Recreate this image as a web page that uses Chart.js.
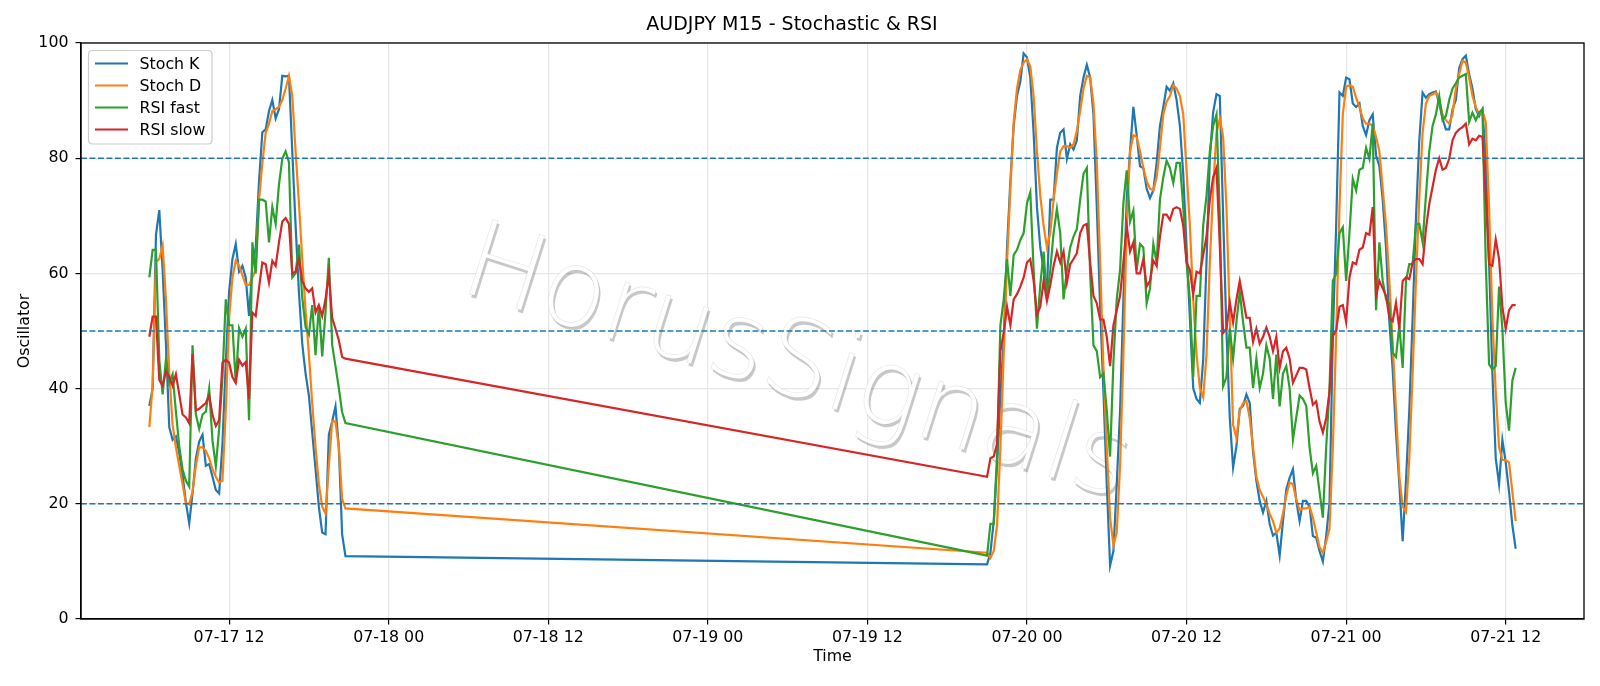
<!DOCTYPE html>
<html>
<head>
<meta charset="utf-8">
<title>AUDJPY M15 - Stochastic &amp; RSI</title>
<script src="https://cdn.jsdelivr.net/npm/chart.js@4.4.0/dist/chart.umd.min.js"></script>
<style>
  html, body { margin: 0; padding: 0; background: #fff; }
  #wrap { width: 1600px; height: 686px; }
</style>
</head>
<body>
<div id="wrap"><canvas id="oscChart" width="1600" height="686"></canvas></div>
<script>

// time is counted in hours from 07-17 00:00, one bar every 15 minutes
var firstBlockStart = 6;    // 07-17 06:00
var secondBlockStart = 69;  // 07-19 21:00 (weekend gap before it)
var barStep = 0.25;

// --- 07-17 06:00 -> 07-17 20:45 ---
var stochK1 = [37, 40, 66.7, 71, 60.6, 47.8, 33.3, 31.1, 31.7, 28.8,
  25, 20.2, 16.6, 21.8, 27.9, 30.8, 32, 26.6, 26.9, 24.7,
  22.4, 21.8, 30.4, 44.6, 56.8, 62.5, 65.1, 60.3, 61.3, 59.3,
  52.6, 61.3, 64.5, 76, 84.5, 85, 88.2, 90.1, 86.9, 88.5,
  94.3, 94.2, 94.3, 81.2, 68.3, 56.8, 47.8, 42.6, 38.8, 32.4,
  26, 19.5, 15, 14.7, 32, 34.3, 36.9, 29.8, 14.7, 10.9];
var stochD1 = [33.3, 40.7, 62, 62.5, 64.8, 55.5, 42.6, 33.7, 29.8, 26.6,
  23.4, 20.2, 19.9, 22.1, 26.6, 29.8, 29.8, 29.2, 27.9, 26,
  24.7, 23.7, 24, 36.2, 52.3, 59.3, 62.2, 61.3, 59.7, 58,
  58, 59.3, 60.6, 72.8, 79.2, 84.4, 86, 88.2, 88.5, 88.9,
  90.1, 92.1, 94.3, 90.8, 81.2, 72.2, 62.5, 53.6, 45.9, 37.5,
  29.8, 23.4, 19.5, 18.3, 26.6, 34.3, 34.3, 29.8, 20.8, 19.2];
var rsiFast1 = [59.3, 64.1, 64.1, 45, 39, 45, 41, 42.5, 36, 30,
  26, 24, 23, 47.5, 35.5, 33, 35.5, 36, 40, 31,
  26.5, 33, 42, 55.5, 51, 51, 41, 50.5, 49, 50.4,
  34.5, 65.4, 60, 72.8, 72.8, 72.5, 65.4, 71.5, 68.6, 75.4,
  79.9, 81.2, 79.3, 59.3, 60, 65, 55.8, 50.7, 49.4, 54.5,
  45.8, 54.5, 45.6, 53.3, 62.7, 47.6, 43.9, 40.1, 35.9, 34];
var rsiSlow1 = [49, 52.5, 52.5, 41.5, 40.5, 43, 42, 40.5, 42.5, 39,
  35.5, 35, 34, 46, 36.2, 36.5, 37, 37.5, 38.8, 35.5,
  33.5, 34.5, 44.5, 45, 44.5, 42, 41, 45, 44, 44.6,
  38.2, 53.2, 52.6, 57.5, 61.9, 61.6, 58.4, 62.2, 61.3, 65.4,
  69, 69.6, 68.6, 60, 60.3, 62.5, 58.7, 57.4, 56.8, 57.4,
  53.2, 54.5, 52.6, 55.5, 60, 52.3, 50.4, 48.4, 45.5, 45.2];

// --- 07-19 21:00 -> 07-21 12:45 ---
var stochK2 = [9.5, 11.5, 17, 26.6, 38.8, 48.5, 64.5, 76, 85.6, 90.8,
  93.3, 98.2, 97.5, 94, 84.4, 71.5, 64.5, 60.6, 57, 72.8,
  72.8, 81.8, 84.4, 85, 79.9, 82.4, 81.5, 83.1, 90.8, 94,
  96.2, 94, 87.6, 71.5, 54.2, 39.4, 23.4, 9.3, 11.8, 23.4,
  36.2, 55.5, 72.8, 81.2, 88.9, 84, 78.6, 78.3, 74.7, 73.1,
  74.4, 79.2, 85.6, 88.9, 92.4, 91.7, 93, 90.1, 85.6, 77.3,
  64.5, 52.3, 40.1, 38.2, 37.5, 45, 62, 80, 88, 91.1,
  90.8, 70, 50, 35, 26.3, 30, 36.5, 37, 39, 37.5,
  29, 24, 20.5, 18.5, 20.5, 16.5, 14.5, 15, 11, 17,
  22.5, 24.5, 26, 20.5, 17, 20.5, 20.5, 19.5, 14.4, 14.1,
  11.8, 10, 14.4, 20.2, 49.1, 68.3, 91.4, 90.8, 94, 93.7,
  89.5, 88.9, 89.5, 85.6, 84, 86.6, 87.6, 80.5, 78.6, 72.8,
  64.5, 51.7, 43.3, 32.4, 23.4, 13.5, 24, 36.2, 52.3, 69.6,
  83, 91.4, 90.5, 91.1, 91.4, 91.6, 89.5, 86.9, 85, 85,
  88.5, 90.1, 95.6, 97.2, 97.8, 94.6, 92.1, 88.5, 87.3, 88.5,
  79.9, 61.9, 42.6, 27.9, 23.4, 31.1, 27.2, 22.1, 16.3, 12.2];
var stochD2 = [11.5, 10.6, 11.8, 16.3, 29.8, 45.9, 61.9, 74.7, 86.3, 92.1,
  95.3, 96.6, 97.2, 95.9, 90.8, 81.2, 73.5, 68.3, 64.5, 67,
  72.8, 77.3, 81.2, 82.1, 82.1, 81.8, 82.4, 84.7, 88.2, 92.1,
  94.3, 94, 89.5, 79.2, 61.9, 43.9, 29.8, 17.6, 12.8, 15,
  26.6, 45.9, 68.3, 81.2, 84, 83.7, 81.2, 78.3, 76, 74.7,
  74.4, 76.7, 81.8, 87.6, 89.8, 90.8, 92.7, 92.1, 90.8, 87.6,
  77.9, 68.3, 55.5, 45.9, 40.1, 38.5, 45.9, 61.9, 74.7, 84.4,
  86.9, 83.7, 71.5, 52.3, 33.7, 31.4, 36.2, 37.5, 37.8, 34.9,
  29.8, 24.7, 22.4, 21.2, 19.9, 18.3, 17, 15, 15.7, 18.3,
  21.5, 23.7, 23.4, 20.8, 18.9, 19.2, 19.2, 19.5, 17.6, 15,
  12.5, 11.5, 13.4, 15.7, 29.8, 49.1, 71.5, 87.6, 92.4, 92.7,
  92.4, 90.5, 88.9, 86.9, 86, 86, 85.6, 83.7, 81.2, 74.7,
  68.3, 58.7, 47.8, 36.2, 24.7, 19.5, 18.6, 27.9, 42.6, 58.7,
  73, 84.4, 89.5, 90.8, 91.1, 91.4, 90.1, 87.6, 86.6, 86,
  87.6, 92.1, 94.6, 96.9, 96.6, 94, 90.8, 88.9, 87.6, 88.2,
  86.3, 71.5, 52.3, 39.4, 29.8, 27.6, 27.6, 27.2, 22.1, 17];
var rsiFast2 = [11, 16.5, 16.5, 28.5, 51, 55.5, 62.5, 56.1, 63.2, 64.1,
  65.8, 67, 72.2, 74.1, 60.6, 50.4, 58, 63.8, 55.5, 60.6,
  67, 71.2, 67, 55.5, 60.6, 64.5, 66.4, 67.7, 72.8, 77.3,
  78.3, 60, 47.5, 46.5, 42, 42.6, 36.2, 28.2, 44.6, 55.5,
  60.6, 72.2, 77.9, 69, 70.9, 60.6, 65.1, 64.5, 54.8, 57.4,
  65.1, 61.9, 72.8, 76.7, 79.6, 78.3, 75.7, 79.2, 79.2, 71.5,
  61.9, 55.5, 42, 56.1, 56.1, 68.3, 73.5, 81.2, 85.6, 87.6,
  70, 40.4, 42, 50.4, 45.2, 51.6, 56.8, 51.6, 47.1, 47.1,
  40.1, 45.2, 40.1, 42.6, 47.5, 45.2, 38.2, 45.9, 36.9, 42.6,
  43.9, 40.1, 31.1, 35, 38.8, 38.2, 37, 29.8, 25.3, 26.6,
  22.1, 17.6, 29.8, 40, 58.7, 59.9, 67, 68, 58.7, 67,
  76.4, 74.4, 78, 78.3, 81.8, 79.9, 86, 53.6, 65.4, 58.7,
  55.5, 54.8, 46.2, 45.5, 51, 43.6, 58.7, 61.6, 61.6, 68.6,
  68.6, 65.4, 73.5, 81.2, 85.6, 87.6, 90.8, 86.6, 87.3, 90.1,
  92.1, 93, 94, 94.3, 94.6, 86.3, 87.9, 86.6, 87.9, 88.5,
  61.9, 44.2, 43.3, 43.9, 57.7, 50.4, 37.5, 32.7, 41.4, 43.6];
var rsiSlow2 = [24.7, 27.9, 28.2, 30.4, 46.5, 49.7, 54.2, 51, 55.5, 56.4,
  57.7, 59.3, 61.9, 62.5, 58.7, 52.9, 54.2, 58.7, 55.2, 58,
  61.3, 63.8, 61.9, 63.8, 58.4, 61.6, 62.5, 63.5, 67, 68.3,
  68.6, 61.9, 56.1, 54.8, 52, 52, 49, 43.9, 51, 53.6,
  56.1, 61.9, 68.3, 63.8, 65.4, 60, 60, 62.5, 57.7, 58.7,
  62.2, 61.3, 66.4, 70.2, 70.2, 69.3, 71.2, 71.5, 71.2, 68.3,
  61.9, 60.6, 56.4, 60.3, 60, 63.2, 66.4, 72.8, 76.7, 78.3,
  65, 49.7, 50.4, 55, 51.5, 55.5, 58.7, 55.5, 52.3, 52.3,
  48.1, 50.4, 47.8, 49, 50.6, 49, 46.5, 49, 43.6, 46.5,
  47.1, 45.2, 41, 42.3, 43.6, 43.6, 43.3, 40.1, 37.2, 37.8,
  34.3, 32.4, 34.9, 39.4, 49.1, 50.1, 54.2, 54.5, 51.6, 59.3,
  61.9, 61.6, 64.1, 64.5, 67, 66.7, 71.5, 56.1, 58.7, 57.4,
  56.1, 52.3, 51.7, 54.9, 50.4, 58.7, 59.3, 59, 61.9, 62.5,
  62.5, 61.6, 67.7, 72, 75, 78, 80, 78, 78.3, 79.9,
  83.1, 84.4, 85, 85.4, 86, 82.4, 83.4, 83.1, 83.9, 83.7,
  73.5, 61.6, 61.3, 65.9, 62.5, 54.2, 50.4, 53.6, 54.5, 54.5];

var tickHours = [12, 24, 36, 48, 60, 72, 84, 96, 108];
var tickLabels = ['07-17 12', '07-18 00', '07-18 12', '07-19 00', '07-19 12',
  '07-20 00', '07-20 12', '07-21 00', '07-21 12'];
var levels = [20, 50, 80];

var seriesNames = ['Stoch K', 'Stoch D', 'RSI fast', 'RSI slow'];
var seriesColors = ['#1f77b4', '#ff7f0e', '#2ca02c', '#d62728'];

var FONT = 'DejaVu Sans';
Chart.defaults.font.family = FONT;
Chart.defaults.color = '#000';


function toPoints(first, second) {
  var pts = [];
  for (var i = 0; i < first.length; i++) {
    pts.push({ x: firstBlockStart + i * barStep, y: first[i] });
  }
  for (var j = 0; j < second.length; j++) {
    pts.push({ x: secondBlockStart + j * barStep, y: second[j] });
  }
  return pts;
}

// matplotlib style 5% margins on the time axis
var lastHour = secondBlockStart + (stochK2.length - 1) * barStep;
var span = lastHour - firstBlockStart;
var xMin = firstBlockStart - span * 0.05;
var xMax = lastHour + span * 0.05;

var allSeries = [[stochK1, stochK2], [stochD1, stochD2], [rsiFast1, rsiFast2], [rsiSlow1, rsiSlow2]];
var datasets = [];

for (var s = 0; s < allSeries.length; s++) {
  datasets.push({
    label: seriesNames[s],
    data: toPoints(allSeries[s][0], allSeries[s][1]),
    borderColor: seriesColors[s],
    backgroundColor: seriesColors[s],
    borderWidth: 2.2,
    pointRadius: 0,
    tension: 0,
    fill: false,
    order: 4 - s
  });
}

for (var l = 0; l < levels.length; l++) {
  datasets.push({
    label: 'level ' + levels[l],
    data: [{ x: xMin, y: levels[l] }, { x: xMax, y: levels[l] }],
    borderColor: '#1f77b4',
    borderWidth: 1.5,
    borderDash: [5.9, 2.6],
    pointRadius: 0,
    fill: false,
    order: 0
  });
}


// watermark, frame on four sides, legend box inside the axes
var decorPlugin = {
  id: 'decor',
  beforeDatasetsDraw: function(chart) {
    var ctx = chart.ctx;
    ctx.save();
    ctx.translate(457, 290);
    ctx.rotate(17.5 * Math.PI / 180);
    ctx.font = '200 107px "DejaVu Sans ExtraLight", "DejaVu Sans"';
    ctx.textBaseline = 'alphabetic';
    // soft grey shadow, then the white letters on top of it
    ctx.fillStyle = 'rgba(0, 0, 0, 0.2)';
    ctx.shadowColor = 'rgba(0, 0, 0, 0.12)';
    ctx.shadowBlur = 2;
    ctx.fillText('HorusSignals', 2.5, 2.5);
    ctx.shadowColor = 'rgba(0, 0, 0, 0)';
    ctx.fillStyle = '#ffffff';
    ctx.fillText('HorusSignals', 0, 0);
    ctx.strokeStyle = 'rgba(0, 0, 0, 0.1)';
    ctx.lineWidth = 0.7;
    ctx.strokeText('HorusSignals', 0, 0);
    ctx.restore();
  },
  afterDatasetsDraw: function(chart) {
    var ctx = chart.ctx;
    var a = chart.chartArea;
    ctx.save();
    ctx.strokeStyle = '#000';
    ctx.lineWidth = 1.3;
    ctx.strokeRect(a.left, a.top, a.right - a.left, a.bottom - a.top);

    // legend
    var bx = a.left + 7.5, by = a.top + 7.5, bw = 123.5, bh = 93.5, r = 4;
    ctx.beginPath();
    ctx.moveTo(bx + r, by);
    ctx.lineTo(bx + bw - r, by);
    ctx.quadraticCurveTo(bx + bw, by, bx + bw, by + r);
    ctx.lineTo(bx + bw, by + bh - r);
    ctx.quadraticCurveTo(bx + bw, by + bh, bx + bw - r, by + bh);
    ctx.lineTo(bx + r, by + bh);
    ctx.quadraticCurveTo(bx, by + bh, bx, by + bh - r);
    ctx.lineTo(bx, by + r);
    ctx.quadraticCurveTo(bx, by, bx + r, by);
    ctx.closePath();
    ctx.fillStyle = 'rgba(255, 255, 255, 0.8)';
    ctx.fill();
    ctx.strokeStyle = '#cccccc';
    ctx.lineWidth = 1.2;
    ctx.stroke();

    ctx.font = '15.8px "' + FONT + '"';
    ctx.textBaseline = 'middle';
    ctx.textAlign = 'left';
    for (var i = 0; i < seriesNames.length; i++) {
      var y = by + 13 + i * 22;
      ctx.strokeStyle = seriesColors[i];
      ctx.lineWidth = 2.2;
      ctx.beginPath();
      ctx.moveTo(bx + 6.5, y);
      ctx.lineTo(bx + 39.5, y);
      ctx.stroke();
      ctx.fillStyle = '#000';
      ctx.fillText(seriesNames[i], bx + 51, y + 1);
    }
    ctx.restore();
  }
};

var ctx = document.getElementById('oscChart').getContext('2d');
var chart = new Chart(ctx, {
  type: 'line',
  data: { datasets: datasets },
  options: {
    responsive: false,
    animation: false,
    devicePixelRatio: 1,
    layout: { padding: { left: 0, right: 16, top: 0, bottom: 0 } },
    plugins: {
      legend: { display: false },
      tooltip: { enabled: false },
      title: {
        display: true,
        text: 'AUDJPY M15 - Stochastic & RSI',
        color: '#000',
        font: { size: 19, weight: 'normal' },
        padding: { top: 14, bottom: 6.2 }
      }
    },
    scales: {
      x: {
        type: 'linear',
        min: xMin,
        max: xMax,
        afterFit: function(scale) { scale.height = 67; },
        afterBuildTicks: function(scale) {
          scale.ticks = tickHours.map(function(h) { return { value: h }; });
        },
        ticks: {
          autoSkip: false,
          maxRotation: 0,
          padding: 4,
          color: '#000',
          font: { size: 15.8 },
          callback: function(v) { return tickLabels[tickHours.indexOf(v)]; }
        },
        grid: { color: '#e7e7e7', lineWidth: 1.2, tickColor: '#000', tickLength: 5.5 },
        border: { color: '#000', width: 1.3 },
        title: { display: true, text: 'Time', color: '#000', font: { size: 15.8 }, padding: { top: 0, bottom: 19.8 } }
      },
      y: {
        min: 0,
        max: 100,
        afterFit: function(scale) { scale.width = 81; },
        ticks: { stepSize: 20, padding: 7, color: '#000', font: { size: 15.8 } },
        grid: { color: '#e7e7e7', lineWidth: 1.2, tickColor: '#000', tickLength: 5.5 },
        border: { color: '#000', width: 1.3 },
        title: { display: true, text: 'Oscillator', color: '#000', font: { size: 15.8 }, padding: { top: 15, bottom: 0 } }
      }
    }
  },
  plugins: [decorPlugin]
});

</script>
</body>
</html>
